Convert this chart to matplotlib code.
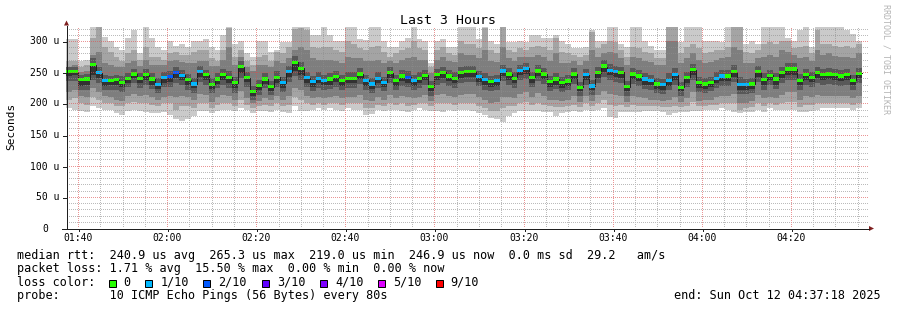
import numpy as np
import matplotlib
matplotlib.use("Agg")
import matplotlib.pyplot as plt
from matplotlib.patches import Rectangle, Polygon
from matplotlib.lines import Line2D

# ---------------- data ----------------
step_seconds = 80
window_seconds = 10800          # 3 hours: 01:37:18 .. 04:37:18
first_tick_offset = 162         # 01:40:00 - 01:37:18
x_major_labels = ["01:40", "02:00", "02:20", "02:40", "03:00", "03:20", "03:40", "04:00", "04:20"]
y_major_values = [0, 50, 100, 150, 200, 250, 300]
y_major_labels = ["0", "50 u", "100 u", "150 u", "200 u", "250 u", "300 u"]

median_us = [251,251,238,239,262,249,237,237,238,234,240,247,240,246,239,230,241,243,249,245,238,231,251,
             246,230,239,246,242,233,259,241,219,229,239,227,242,233,251,266,256,241,235,240,237,239,
             243,237,240,240,247,237,231,240,234,249,237,244,242,237,240,245,227,246,250,244,240,249,251,
             251,243,238,235,237,252,247,240,253,256,242,252,247,235,239,233,236,247,226,246,228,249,260,
             253,251,250,227,247,244,239,237,231,230,237,246,226,242,254,233,231,234,240,244,244,251,
             230,230,231,251,238,245,239,249,255,255,237,246,242,249,246,247,246,244,246,237,248]

loss_idx = [0,0,0,0,0,1,1,0,0,0,0,0,0,0,0,1,1,2,2,1,0,1,1,
            0,0,0,0,0,0,0,0,0,0,0,0,0,1,1,0,0,1,1,1,1,0,
            0,0,0,0,0,1,1,1,1,0,0,0,2,1,0,0,0,0,0,0,0,0,0,
            0,1,1,0,1,1,0,0,1,1,0,0,0,0,0,0,0,0,0,1,1,0,0,
            1,1,0,0,0,0,1,1,0,1,1,1,0,0,0,0,0,0,1,1,0,0,
            1,1,0,0,0,0,0,0,0,0,0,0,0,0,0,0,0,0,0,0,0]

# sorted ping values per step (p9 = highest ... p0 = lowest), microseconds
p9 = [303,303,268,270,322,325,306,300,290,285,305,318,280,322,305,290,285,300,292,295,290,300,300,
      303,290,285,309,324,295,300,280,275,300,300,282,285,298,298,324,324,322,310,310,322,310,
      300,300,324,324,303,302,322,322,300,290,290,300,305,324,303,300,265,300,303,290,290,324,324,
      324,303,324,300,295,326,298,298,300,298,309,309,305,305,309,300,295,288,288,290,318,300,300,
      324,324,295,290,324,324,300,292,285,285,326,326,298,322,322,322,300,300,300,298,324,324,
      324,295,300,295,324,324,324,324,305,300,318,322,290,322,324,324,324,324,318,312,300]
p8 = [268,268,258,262,305,322,290,282,275,268,280,285,270,290,275,275,270,280,282,278,278,282,285,
      285,272,268,285,321,275,285,268,262,275,278,268,282,280,290,320,321,318,290,288,290,290,
      285,282,300,295,288,285,290,292,282,275,280,285,288,300,288,285,258,285,290,280,278,300,295,
      295,288,321,285,280,322,285,282,288,285,290,292,290,285,305,282,280,278,275,278,315,288,295,
      300,298,285,275,290,288,282,280,272,272,323,323,280,290,295,288,280,282,285,285,290,322,
      322,282,280,285,295,298,295,300,300,288,290,292,280,318,295,295,292,290,292,288,295]
p7 = [258,262,250,252,278,282,265,262,258,258,265,268,260,270,262,262,262,268,270,266,265,265,268,
      268,260,260,270,290,262,275,258,252,262,262,258,268,265,272,285,290,285,272,270,270,270,
      268,265,275,272,272,268,268,270,265,268,265,270,272,275,270,270,248,270,275,268,266,280,278,
      278,272,285,268,266,290,272,268,275,275,275,278,275,268,280,265,265,268,262,268,285,275,280,
      282,280,272,262,275,272,268,266,262,262,300,300,265,272,280,270,265,266,270,272,274,290,
      285,265,265,272,275,278,275,285,282,278,272,275,268,285,278,280,276,274,275,272,280]
p6 = [258,258,246,247,272,258,245,244,246,244,249,255,248,255,248,240,250,252,258,254,247,240,260,
      254,240,248,255,252,242,268,250,228,238,248,236,252,242,260,276,266,250,244,250,246,248,
      252,246,250,250,256,246,240,250,243,258,246,253,252,246,250,254,236,255,259,253,250,258,260,
      260,252,248,244,246,262,256,250,262,265,251,261,256,244,249,243,245,256,235,255,238,258,270,
      263,260,258,236,256,253,248,246,240,239,248,256,235,251,263,242,240,243,250,253,253,262,
      242,239,240,260,248,254,248,258,264,264,247,255,251,258,255,256,255,253,255,246,257]
p5 = [253,253,240,241,264,251,239,239,240,236,242,249,242,248,241,232,243,245,251,247,240,233,253,
      248,232,241,248,244,235,261,243,221,231,241,229,244,235,253,268,258,243,237,242,239,241,
      245,239,242,242,249,239,233,242,236,251,239,246,244,239,242,247,229,248,252,246,242,251,253,
      253,245,240,237,239,254,249,242,255,258,244,254,249,237,241,235,238,249,228,248,230,251,262,
      255,253,252,229,249,246,241,239,233,232,239,248,228,244,256,235,233,236,242,246,246,253,
      232,232,233,253,240,247,241,251,257,257,239,248,244,251,248,249,248,246,248,239,250]
p4 = [244,245,228,230,246,240,228,230,230,226,233,240,232,238,230,223,233,234,240,237,229,224,242,
      238,223,231,238,233,224,248,234,212,221,231,220,233,225,242,252,245,233,227,232,229,230,
      235,228,232,232,239,228,223,232,226,241,228,236,233,228,232,237,219,238,241,236,232,241,242,
      243,235,229,227,228,244,238,232,245,247,233,244,239,227,230,225,228,239,219,238,221,240,251,
      245,243,241,219,239,236,230,229,223,222,228,238,219,233,246,225,223,226,232,236,236,243,
      222,222,223,242,229,237,230,241,246,246,229,238,234,241,238,239,238,236,238,229,240]
p3 = [236,236,222,222,238,232,222,222,222,218,226,232,225,230,223,216,226,227,233,230,222,217,234,
      230,216,224,230,225,217,240,226,206,214,224,213,226,218,234,244,237,226,220,224,221,223,
      227,221,225,225,231,221,216,225,219,233,221,228,226,221,225,229,212,230,233,228,225,233,234,
      235,228,222,220,221,236,230,225,237,239,226,236,231,220,223,218,221,231,212,230,214,232,243,
      237,235,233,212,231,228,223,222,216,215,221,230,212,226,238,218,216,219,225,228,228,235,
      215,215,216,234,222,229,223,233,238,238,222,230,227,233,230,231,230,228,230,222,232]
p2 = [218,222,212,210,225,218,212,210,206,204,212,215,212,214,210,205,210,212,210,212,210,205,215,
      214,202,210,214,212,205,220,208,200,204,208,205,212,206,212,225,222,212,208,210,208,210,
      212,208,210,210,214,206,204,210,205,214,208,212,210,208,210,214,204,214,215,212,210,214,215,
      215,210,206,200,202,210,210,208,215,218,210,216,212,206,206,204,206,212,202,212,204,214,220,
      215,214,212,202,212,210,208,206,206,204,206,210,202,208,218,204,206,206,210,212,212,215,
      200,200,204,214,208,210,208,214,218,218,206,212,210,214,212,212,212,212,212,208,212]
p1 = [205,208,200,198,210,205,200,200,196,195,200,202,200,200,198,195,200,200,190,195,195,192,200,
      200,192,198,200,200,196,205,198,192,196,198,196,200,196,198,210,205,200,198,200,198,200,
      200,198,200,200,200,192,192,198,196,200,198,200,196,198,200,200,196,200,200,200,198,200,200,
      200,196,192,188,188,192,195,196,200,202,198,200,198,196,194,194,196,198,194,200,196,200,205,
      198,196,198,194,198,196,196,196,196,194,194,196,194,196,202,196,196,198,198,200,200,200,
      190,192,194,200,196,200,198,200,202,202,194,198,198,200,200,200,200,200,200,198,200]
p0 = [192,190,188,186,195,192,190,190,185,182,188,190,188,186,185,185,186,182,175,172,175,180,188,
      188,185,188,190,190,188,192,190,185,188,188,186,190,186,185,195,188,188,190,192,190,192,
      190,188,192,190,190,182,183,190,188,190,190,188,186,190,192,190,188,188,186,190,188,190,190,
      188,185,182,176,175,170,180,184,188,188,188,188,186,186,180,184,186,188,186,190,188,190,192,
      178,176,186,186,186,186,188,188,188,186,182,184,186,186,188,188,190,190,190,192,190,186,
      185,186,186,190,186,192,190,190,190,190,186,186,188,190,192,192,192,192,192,190,192]

loss_labels = ["0", "1/10", "2/10", "3/10", "4/10", "5/10", "9/10"]
loss_colors = ["#26ff00", "#00b8ff", "#0059ff", "#5e00ff", "#7e00ff", "#dd00ff", "#ff0000"]

legend_lines = [
    "median rtt:  240.9 us avg  265.3 us max  219.0 us min  246.9 us now  0.0 ms sd  29.2   am/s",
    "packet loss: 1.71 % avg  15.50 % max  0.00 % min  0.00 % now",
    "loss color:",
    "probe:       10 ICMP Echo Pings (56 Bytes) every 80s",
]
end_text = "end: Sun Oct 12 04:37:18 2025"
title_text = "Last 3 Hours"

# ---------------- figure ----------------
W, H = 897, 310
fig = plt.figure(figsize=(W / 100, H / 100), dpi=100)
fig.patch.set_facecolor("white")
MONO = "DejaVu Sans Mono"

X0, X1 = 66, 868        # plot area pixels
Y_BOT, Y_TOP = 228, 27.3
YMAX = 322.0

ax = fig.add_axes([X0 / W, (H - Y_BOT) / H, (X1 - X0) / W, (Y_BOT - Y_TOP) / H])
ax.set_xlim(0, window_seconds)
ax.set_ylim(0, YMAX)
ax.axis("off")

n = len(median_us)
edges = np.arange(n + 1) * step_seconds


def ext(a):
    a = np.asarray(a, dtype=float)
    return np.append(a, a[-1])


pings = [p0, p1, p2, p3, p4, p5, p6, p7, p8, p9]
smoke_cols = ["#cacaca", "#a4a4a4", "#7e7e7e", "#585858", "#323232"]
for i in range(5):
    lo = ext(pings[i])
    hi = ext(pings[9 - i])
    ax.fill_between(edges, lo, hi, step="post", color=smoke_cols[i], lw=0, zorder=1 + i * 0.1)

px = 1.0 * 72 / 100
# median line and loss-coloured markers
ax.step(edges, ext(median_us), where="post", color="#202020", lw=px, zorder=4)
half = 2.6
ax.bar(edges[:-1], [2 * half] * n, bottom=np.asarray(median_us) - half, width=step_seconds,
       align="edge", color=[loss_colors[k] for k in loss_idx], lw=0, zorder=5)

# ---------------- overlay in pixel coordinates ----------------
ov = fig.add_axes([0, 0, 1, 1])
ov.set_xlim(0, W)
ov.set_ylim(H, 0)
ov.axis("off")

sy = (Y_BOT - Y_TOP) / YMAX
sx = (X1 - X0) / window_seconds

# dotted grid as a pixel raster (1 px on, 1 px off)
grid = np.zeros((H, W, 4))
minor_c = (0.56, 0.56, 0.56, 0.6)
major_c = (0.87, 0.31, 0.31, 0.6)
row_top = int(np.ceil(Y_TOP))
for v in range(10, int(YMAX) + 1, 10):
    r = int(np.floor(Y_BOT + 0.5 - v * sy))
    c = major_c if v % 50 == 0 else minor_c
    grid[r, X0 + 1:X1:2] = c
major_ticks = [first_tick_offset + 1200 * k for k in range(len(x_major_labels))]
t = first_tick_offset
while t < window_seconds:
    col = int(np.floor(X0 + 0.5 + t * sx))
    c = major_c if (t - first_tick_offset) % 1200 == 0 else minor_c
    grid[row_top:Y_BOT:2, col] = c
    t += 300
ov.imshow(grid, extent=(0, W, H, 0), interpolation="nearest", zorder=0.5)
ov.set_xlim(0, W)
ov.set_ylim(H, 0)

axis_c = "#1f1f1f"
arrow_c = "#7f1f1f"
# y axis
ov.add_line(Line2D([X0 + 0.5, X0 + 0.5], [Y_BOT + 0.5, 25.5], color=axis_c, lw=px))
ov.add_patch(Polygon([[X0 - 2.0, 25.5], [X0 + 3.0, 25.5], [X0 + 0.5, 20.5]], closed=True,
                     color=arrow_c, lw=0))
# x axis
ov.add_line(Line2D([62, X1 + 1], [Y_BOT + 0.5, Y_BOT + 0.5], color=axis_c, lw=px))
ov.add_patch(Polygon([[X1 + 1, Y_BOT - 2.0], [X1 + 1, Y_BOT + 3.0], [X1 + 6, Y_BOT + 0.5]],
                     closed=True, color=arrow_c, lw=0))

# y tick marks and labels
for v, lab in zip(y_major_values, y_major_labels):
    yp = np.floor(Y_BOT + 0.5 - v * sy) + 0.5
    ov.add_line(Line2D([X0 - 3, X0 + 0.5], [yp, yp], color=axis_c, lw=px))
    xr = 59.5 if lab != "0" else 48.3
    ov.text(xr, yp, lab, ha="right", va="center", fontsize=7, family=MONO, color="black")
# x labels
for t, lab in zip(major_ticks, x_major_labels):
    xp = np.floor(X0 + 0.5 + t * sx) + 0.5
    ov.add_line(Line2D([xp, xp], [Y_BOT + 0.5, Y_BOT + 3], color=axis_c, lw=px))
    ov.text(xp, 238, lab, ha="center", va="center", fontsize=7, family=MONO, color="black")

# title, axis title, watermark
ov.text(448, 23.5, title_text, ha="center", va="baseline", fontsize=9.5, family=MONO, color="black")
ov.text(11, 126, "Seconds", ha="center", va="center", rotation=90, fontsize=8, family=MONO,
        color="black")
ov.text(886, 59.5, "RRDTOOL / TOBI OETIKER", ha="center", va="center", rotation=270,
        fontsize=6, family=MONO, color="#b4b4b4")

# legend text
baselines = [258.5, 272.0, 285.5, 299.0]
for txt, yb in zip(legend_lines, baselines):
    ov.text(16.5, yb, txt, ha="left", va="baseline", fontsize=8.5, family=MONO, color="black")
ov.text(880.5, baselines[3], end_text, ha="right", va="baseline", fontsize=8.5, family=MONO,
        color="black")

box_x = [108.7, 145.3, 203.3, 261.7, 320.0, 377.7, 435.7]
for bx, col, lab in zip(box_x, loss_colors, loss_labels):
    ov.add_patch(Rectangle((bx, 279.5), 7, 7, facecolor=col, edgecolor="black", lw=px))
    ov.text(bx + 15, baselines[2], lab, ha="left", va="baseline", fontsize=8.5, family=MONO,
            color="black")

fig.savefig("out.png", dpi=100, facecolor="white")
